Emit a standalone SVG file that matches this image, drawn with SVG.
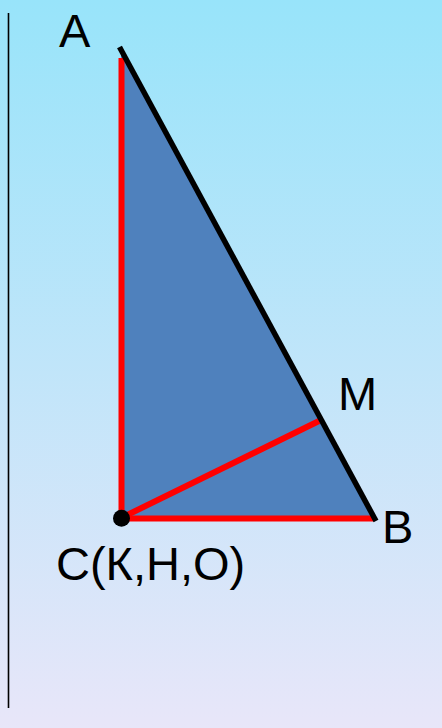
<svg xmlns="http://www.w3.org/2000/svg" width="442" height="728" viewBox="0 0 442 728">
<defs>
<linearGradient id="bg" x1="0" y1="0" x2="0" y2="1">
<stop offset="0" stop-color="#98e4fa"/>
<stop offset="1" stop-color="#e8e6f9"/>
</linearGradient>
</defs>
<style>
.lbl{font-family:"Liberation Sans",Arial,sans-serif;font-size:47px;fill:#000}
.red{stroke:#ff0000;stroke-width:6;fill:none}
</style>
<rect width="442" height="728" fill="url(#bg)"/>
<line x1="8.5" y1="13" x2="8.5" y2="708" stroke="#000" stroke-width="1.6"/>
<g id="triangle">
<polygon points="121,52 121,518 374,518" fill="#4f81bd"/>
</g>
<g id="connectors">
<line class="red" x1="121.5" y1="58" x2="121.5" y2="518"/>
<line class="red" x1="121" y1="518.5" x2="373" y2="518.5"/>
<line class="red" x1="121" y1="518" x2="319" y2="421"/>
<line x1="119.5" y1="47" x2="376" y2="521" stroke="#000" stroke-width="5.5"/>
</g>
<g id="C-point"><circle cx="121.5" cy="518.3" r="8.5" fill="#000"/></g>
<g id="label-A"><text class="lbl" x="59" y="47">A</text></g>
<g id="label-M"><text class="lbl" x="338" y="410">M</text></g>
<g id="label-B"><text class="lbl" x="382" y="543">B</text></g>
<g id="label-C"><text class="lbl" x="56" y="580">C(К,Н,О)</text></g>
</svg>
